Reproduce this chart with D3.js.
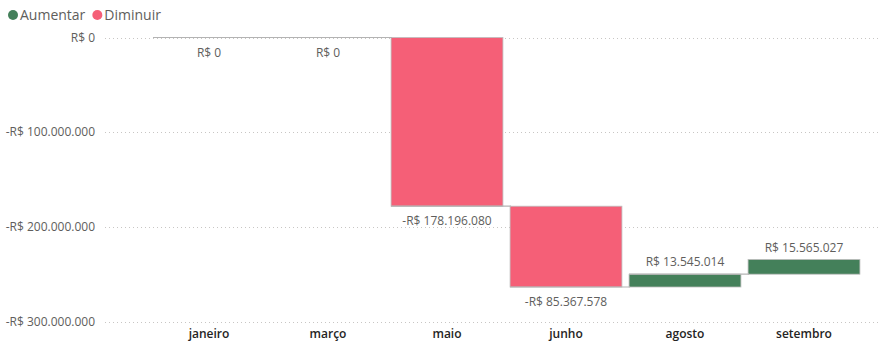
<!DOCTYPE html>
<html><head><meta charset="utf-8">
<script src="https://cdn.jsdelivr.net/npm/d3@7"></script>
<style>
body{margin:0;background:#fff;}
svg{display:block;font-family:"Segoe UI","Open Sans",sans-serif;}
</style></head>
<body><svg id="c" width="880" height="355"></svg>
<script>
const categories = ["janeiro","março","maio","junho","agosto","setembro"];
const values = [0, 0, -178196080, -85367578, 13545014, 15565027];
const valueLabels = ["R$ 0","R$ 0","-R$ 178.196.080","-R$ 85.367.578","R$ 13.545.014","R$ 15.565.027"];
const yTicks = [0, -100000000, -200000000, -300000000];
const yTickLabels = ["R$ 0","-R$ 100.000.000","-R$ 200.000.000","-R$ 300.000.000"];
const legendItems = ["Aumentar","Diminuir"];
const colors = {Aumentar:"#44805A", Diminuir:"#F55F77"};

const svg = d3.select("#c");
const x = d3.scaleBand().domain(categories).range([149.5, 863.5]).paddingInner(0.06).paddingOuter(0.03);
const y = d3.scaleLinear().domain([0, -300000000]).range([37.5, 321.5]);

// gridlines
svg.append("g").selectAll("line").data(yTicks).join("line")
  .attr("x1",105).attr("x2",880)
  .attr("y1",d=>Math.round(y(d))+0.5).attr("y2",d=>Math.round(y(d))+0.5)
  .attr("stroke","#c8c6c4").attr("stroke-dasharray","1,3");

// y labels
svg.append("g").selectAll("text").data(yTicks).join("text")
  .attr("x",95).attr("y",d=>y(d)).attr("dy","0.35em")
  .attr("text-anchor","end").attr("font-size",12).attr("fill","#605E5C")
  .text((d,i)=>yTickLabels[i]);

// compute waterfall
let run = 0;
const steps = values.map((v,i)=>{const s=run; run+=v; return {cat:categories[i], v, start:s, end:run, label:valueLabels[i]};});

// bars
svg.append("g").selectAll("rect").data(steps).join("rect")
  .attr("x",d=>x(d.cat)).attr("width",x.bandwidth())
  .attr("y",d=>y(Math.max(d.start,d.end))).attr("height",d=>Math.abs(y(d.start)-y(d.end)))
  .attr("fill",d=>d.v>=0?colors.Aumentar:colors.Diminuir)
  .attr("stroke","#bdbdbd").attr("stroke-width",d=>d.v===0?1:0.8);

// zero value lines
svg.append("g").selectAll("line").data(steps.filter(d=>d.v===0)).join("line")
  .attr("x1",d=>x(d.cat)).attr("x2",d=>x(d.cat)+x.bandwidth())
  .attr("y1",d=>y(d.end)).attr("y2",d=>y(d.end)).attr("stroke","#a8a8a8").attr("stroke-width",1.2);

// connectors
svg.append("g").selectAll("line").data(steps.slice(0,-1)).join("line")
  .attr("x1",d=>x(d.cat)).attr("x2",(d,i)=>x(categories[i+1])+1)
  .attr("y1",d=>y(d.end)).attr("y2",d=>y(d.end))
  .attr("stroke","#b3b3b3").attr("stroke-width",1.2);

// value labels
svg.append("g").selectAll("text").data(steps).join("text")
  .attr("x",d=>x(d.cat)+x.bandwidth()/2)
  .attr("y",d=>d.v>0 ? y(d.end)-12 : y(d.end)+15)
  .attr("dy","0.35em").attr("text-anchor","middle")
  .attr("font-size",12).attr("fill","#605E5C").text(d=>d.label);

// x labels
svg.append("g").selectAll("text").data(categories).join("text")
  .attr("x",d=>x(d)+x.bandwidth()/2).attr("y",334).attr("dy","0.35em")
  .attr("text-anchor","middle").attr("font-size",12).attr("font-weight",600)
  .attr("fill","#252423").text(d=>d);

// legend
const lg = svg.append("g");
let lx = 13;
legendItems.forEach(k=>{
  lg.append("circle").attr("cx",lx).attr("cy",15).attr("r",5).attr("fill",colors[k]);
  const t = lg.append("text").attr("x",lx+7).attr("y",15).attr("dy","0.35em")
    .attr("font-size",14).attr("fill","#605E5C").text(k);
  lx += 7 + t.node().getComputedTextLength() + 12;
});
</script></body></html>
